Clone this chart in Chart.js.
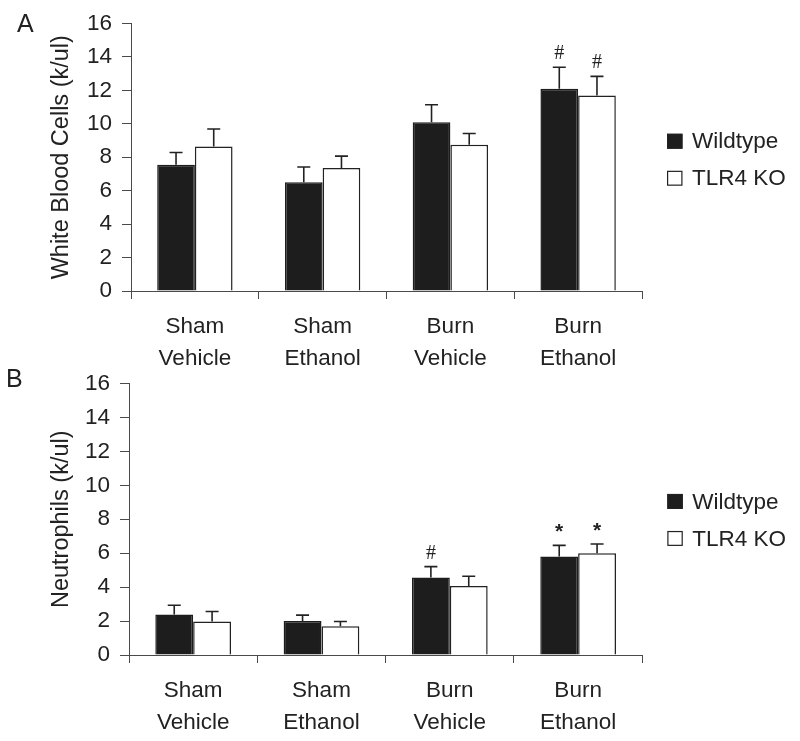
<!DOCTYPE html>
<html><head><meta charset="utf-8">
<script src="https://cdn.jsdelivr.net/npm/chart.js@4.4.1/dist/chart.umd.min.js"></script>
<style>
html,body{margin:0;padding:0;background:#fff;}
#wrap{position:relative;width:800px;height:741px;overflow:hidden;}
canvas{position:absolute;left:0;}
</style></head><body>
<div id="wrap">
<canvas id="cA" width="800" height="370" style="top:0"></canvas>
<canvas id="cB" width="800" height="381" style="top:360px"></canvas>
</div>
<script>
// ---- data ----
const categories = [['Sham','Vehicle'],['Sham','Ethanol'],['Burn','Vehicle'],['Burn','Ethanol']];
const seriesNames = ['Wildtype','TLR4 KO'];
const yTickMin = 0, yTickMax = 16, yTickStep = 2;

const wbcWildtype    = [7.55, 6.5, 10.1, 12.1];
const wbcWildtypeErr = [0.73, 0.92, 1.04, 1.28];
const wbcTlr4        = [8.65, 7.35, 8.75, 11.7];
const wbcTlr4Err     = [1.04, 0.72, 0.67, 1.14];
const wbcWildtypeMarks = ['', '', '', '#'];
const wbcTlr4Marks     = ['', '', '', '#'];

const neuWildtype    = [2.38, 2.0, 4.57, 5.8];
const neuWildtypeErr = [0.55, 0.35, 0.64, 0.66];
const neuTlr4        = [1.97, 1.7, 4.06, 5.99];
const neuTlr4Err     = [0.59, 0.27, 0.58, 0.55];
const neuWildtypeMarks = ['', '', '#', '*'];
const neuTlr4Marks     = ['', '', '', '*'];

// ---- styling ----
const INK = '#222222';
const AXIS = '#4a4a4a';
const FONT = "'Liberation Sans', Arial, sans-serif";
Chart.defaults.font.family = FONT;
Chart.defaults.color = INK;

const errorBarsPlugin = {
  id: 'errorBars',
  afterDatasetsDraw(chart) {
    const ctx = chart.ctx, y = chart.scales.y;
    chart.data.datasets.forEach((ds, di) => {
      const meta = chart.getDatasetMeta(di);
      meta.data.forEach((bar, i) => {
        const v = ds.data[i], e = ds.errors[i];
        const yTop = y.getPixelForValue(v + e);
        const yBar = y.getPixelForValue(v);
        ctx.save();
        ctx.strokeStyle = INK; ctx.lineWidth = 1.6;
        ctx.beginPath();
        ctx.moveTo(bar.x, yBar); ctx.lineTo(bar.x, yTop);
        ctx.moveTo(bar.x - 6.5, yTop); ctx.lineTo(bar.x + 6.5, yTop);
        ctx.stroke();
        const m = ds.marks[i];
        if (m) {
          ctx.fillStyle = INK;
          ctx.textAlign = 'center';
          ctx.textBaseline = 'alphabetic';
          if (m === '*') {
            ctx.font = "bold 21px " + FONT;
            ctx.fillText(m, bar.x, yTop - 7);
          } else {
            ctx.font = "20px 'Liberation Serif', 'Times New Roman', serif";
            ctx.fillText(m, bar.x, yTop - 8);
          }
        }
        ctx.restore();
      });
    });
  }
};

const sideLegendPlugin = {
  id: 'sideLegend',
  afterDraw(chart, args, opts) {
    const ctx = chart.ctx, area = chart.chartArea;
    const x0 = area.right + 25;
    const cy = (area.top + area.bottom) / 2 + opts.shift;
    const gap = 37;
    chart.data.datasets.forEach((ds, i) => {
      const yc = cy + (i - 0.5) * gap;
      ctx.save();
      ctx.fillStyle = ds.backgroundColor;
      ctx.strokeStyle = INK; ctx.lineWidth = 1.2;
      ctx.fillRect(x0, yc - 7.5, 15.5, 15);
      ctx.strokeRect(x0 + 0.6, yc - 6.9, 14.3, 13.8);
      ctx.fillStyle = INK;
      ctx.font = "22.5px " + FONT;
      ctx.textAlign = 'left'; ctx.textBaseline = 'middle';
      ctx.fillText(ds.label, x0 + 25, yc + 1);
      ctx.restore();
    });
    // panel letter
    ctx.save();
    ctx.fillStyle = INK; ctx.font = "25px " + FONT;
    ctx.textAlign = 'left'; ctx.textBaseline = 'alphabetic';
    ctx.fillText(opts.letter, opts.letterX, opts.letterY);
    ctx.restore();
  }
};

function makeChart(id, title, wt, wtErr, wtMarks, ko, koErr, koMarks, geom) {
  return new Chart(document.getElementById(id), {
    type: 'bar',
    data: {
      labels: categories,
      datasets: [
        { label: seriesNames[0], data: wt, errors: wtErr, marks: wtMarks,
          backgroundColor: '#1d1d1d', borderColor: '#1d1d1d', borderWidth: 1.5 },
        { label: seriesNames[1], data: ko, errors: koErr, marks: koMarks,
          backgroundColor: '#ffffff', borderColor: INK, borderWidth: 1.5 }
      ]
    },
    options: {
      responsive: false,
      animation: false,
      devicePixelRatio: 1,
      categoryPercentage: 0.59,
      barPercentage: 1.0,
      layout: { padding: { top: geom.top, right: geom.right, bottom: 0, left: 0 } },
      plugins: {
        legend: { display: false },
        tooltip: { enabled: false },
        sideLegend: { shift: geom.legendShift, letter: geom.letter, letterX: geom.letterX, letterY: geom.letterY }
      },
      scales: {
        x: {
          grid: { display: true, offset: true, drawOnChartArea: false, drawTicks: true, tickLength: 8, color: AXIS, lineWidth: 1 },
          border: { display: true, color: AXIS, width: 1 },
          ticks: { color: INK, font: { size: 22.5, lineHeight: 1.41 }, padding: 12, maxRotation: 0, autoSkip: false },
          afterFit(s) { s.height = geom.xHeight; }
        },
        y: {
          min: yTickMin, max: yTickMax,
          grid: { display: true, drawOnChartArea: false, drawTicks: true, tickLength: 9, color: AXIS, lineWidth: 1 },
          border: { display: true, color: AXIS, width: 1 },
          ticks: { stepSize: yTickStep, color: INK, font: { size: 22.5 }, padding: 10 },
          title: { display: true, text: title, color: INK, font: { size: 23.5 }, padding: { top: 47.5, bottom: 0 } },
          afterFit(s) { s.width = geom.yWidth; }
        }
      }
    },
    plugins: [errorBarsPlugin, sideLegendPlugin]
  });
}

makeChart('cA', 'White Blood Cells (k/ul)',
  wbcWildtype, wbcWildtypeErr, wbcWildtypeMarks, wbcTlr4, wbcTlr4Err, wbcTlr4Marks,
  { top: 19, right: 158, xHeight: 79, yWidth: 131, legendShift: 2.5, letter: 'A', letterX: 17, letterY: 32 });

makeChart('cB', 'Neutrophils (k/ul)',
  neuWildtype, neuWildtypeErr, neuWildtypeMarks, neuTlr4, neuTlr4Err, neuTlr4Marks,
  { top: 21.7, right: 157.7, xHeight: 86, yWidth: 129, legendShift: 0.7, letter: 'B', letterX: 6, letterY: 26.5 });
</script>
</body></html>
